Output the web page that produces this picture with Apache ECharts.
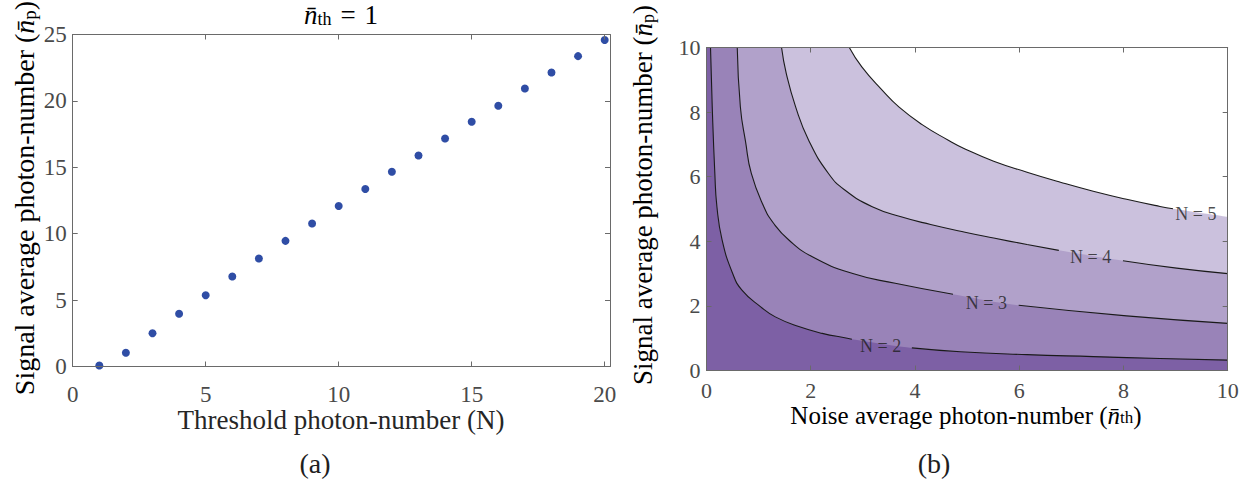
<!DOCTYPE html>
<html>
<head>
<meta charset="utf-8">
<script src="https://cdn.jsdelivr.net/npm/echarts@6/dist/echarts.min.js"></script>
<style>
  html, body { margin: 0; padding: 0; background: #ffffff; }
  #chart { width: 1251px; height: 484px; }
</style>
</head>
<body>
<div id="chart"></div>
<script>
// (a) signal photon number needed for each threshold N at n_th = 1
const thresholdN = [1, 2, 3, 4, 5, 6, 7, 8, 9, 10, 11, 12, 13, 14, 15, 16, 17, 18, 19, 20];
const signalNp = [0.08, 1.03, 2.51, 3.97, 5.37, 6.78, 8.13, 9.46, 10.77, 12.08,
                  13.36, 14.66, 15.89, 17.17, 18.43, 19.63, 20.93, 22.14, 23.37, 24.58];
const ticksA_x = [0, 5, 10, 15, 20];
const ticksA_y = [0, 5, 10, 15, 20, 25];

// (b) contour lines [n_th, n_p] for each threshold level
const contourN2 = [[0.077, 10], [0.11, 8.16], [0.16, 6.10], [0.20, 5.07], [0.30, 4.04], [0.50, 3.01],
                   [0.68, 2.49], [1.04, 1.97], [1.32, 1.66], [1.77, 1.36], [2.22, 1.15], [2.70, 1.00],
                   [2.79, 0.97], [3.94, 0.70], [4.87, 0.58], [6.15, 0.49], [7.42, 0.43], [8.70, 0.37], [10, 0.32]];
const contourN3 = [[0.59, 10], [0.65, 8.16], [0.75, 7.08], [0.86, 6.10], [1.10, 5.07], [1.29, 4.55],
                   [1.58, 4.04], [2.03, 3.52], [2.79, 3.01], [3.62, 2.70], [4.73, 2.36], [5.99, 2.02],
                   [8.06, 1.69], [10, 1.46]];
const contourN4 = [[1.44, 10], [1.53, 9.20], [1.71, 8.16], [1.96, 7.13], [2.34, 6.10], [2.66, 5.58],
                   [3.18, 5.07], [3.75, 4.75], [4.30, 4.52], [4.96, 4.28], [5.51, 4.10], [6.15, 3.90],
                   [6.76, 3.72], [7.99, 3.40], [9.02, 3.17], [10, 3.00]];
const contourN5 = [[2.74, 10], [2.98, 9.40], [3.37, 8.68], [3.69, 8.16], [4.13, 7.62], [4.64, 7.13],
                   [4.96, 6.86], [5.51, 6.48], [6.15, 6.14], [6.79, 5.83], [7.42, 5.55], [8.06, 5.30],
                   [8.70, 5.08], [8.95, 5.01], [10, 4.76]];
const contourLevels = ['N = 2', 'N = 3', 'N = 4', 'N = 5'];
const contourLabelPos = [[3.34, 0.76], [5.37, 2.10], [7.37, 3.50], [9.39, 4.86]];
const contourLabelGaps = [[2.79, 3.94], [4.73, 5.99], [6.76, 7.99], [8.95, 10.01]];
const ticksB = [0, 2, 4, 6, 8, 10];

// fill colours, from the lowest band up to the region above N = 5
const bandColors = ['#7d60a5', '#9983b8', '#b1a1ca', '#cbc1dd', '#ffffff'];

const SERIF = "'Liberation Serif', 'DejaVu Serif', serif";
const AXIS_GREY = '#6a6a6a';
const TICK_TEXT = '#4a4a4a';

const contours = [contourN2, contourN3, contourN4, contourN5];

// split a contour line where its inline label sits
function withGap(points, gap) {
  const out = [];
  let broke = false;
  points.forEach(p => {
    if (p[0] > gap[0] && p[0] < gap[1]) return;
    if (p[0] >= gap[1] && !broke) { out.push([(gap[0] + gap[1]) / 2, '-']); broke = true; }
    out.push(p);
  });
  return out;
}

function boxAxis(gridIndex, pos, min, max, ticks, labelOpt) {
  return {
    type: 'value', gridIndex: gridIndex, position: pos, min: min, max: max, z: 10,
    axisLine: { show: true, onZero: false, lineStyle: { color: AXIS_GREY, width: 1 } },
    axisTick: { show: true, inside: true, length: 5, customValues: ticks,
                lineStyle: { color: AXIS_GREY, width: 1 } },
    axisLabel: labelOpt ? Object.assign({ customValues: ticks, fontFamily: SERIF, color: TICK_TEXT }, labelOpt)
                        : { show: false },
    splitLine: { show: false }
  };
}

const series = [];

series.push({
  type: 'scatter', xAxisIndex: 0, yAxisIndex: 0,
  data: thresholdN.map((n, i) => [n, signalNp[i]]),
  symbol: 'circle', symbolSize: 8,
  itemStyle: { color: '#2f4da5', opacity: 1 },
  clip: false
});

contours.forEach((c, i) => {
  // band lying above this contour line
  series.push({
    type: 'line', xAxisIndex: 2, yAxisIndex: 2, data: c,
    smooth: 0.5, symbol: 'none',
    lineStyle: { width: 0, opacity: 0 },
    areaStyle: { color: bandColors[i + 1], origin: 'end', opacity: 1 },
    z: 2 + i, silent: true
  });
});
contours.forEach((c, i) => {
  series.push({
    type: 'line', xAxisIndex: 2, yAxisIndex: 2, data: withGap(c, contourLabelGaps[i]),
    smooth: 0.5, symbol: 'none', connectNulls: false,
    lineStyle: { color: '#1a1a1a', width: 1.1 },
    z: 8, silent: true
  });
});
series.push({
  type: 'scatter', xAxisIndex: 2, yAxisIndex: 2,
  data: contourLabelPos.map((p, i) => ({ value: p, name: contourLevels[i] })),
  symbolSize: 0, z: 9, silent: true,
  label: { show: true, position: 'inside', formatter: '{b}', fontFamily: SERIF,
           fontSize: 18, lineHeight: 16, color: '#1e1e1e' }
});

const rich = (size, color, lh) => ({
  m: { fontFamily: SERIF, fontSize: size, color: color, lineHeight: lh },
  e: { fontFamily: SERIF, fontSize: size, color: color, lineHeight: lh, padding: [0, 9, 0, 9] },
  i: { fontFamily: SERIF, fontSize: size, fontStyle: 'italic', color: color, lineHeight: lh },
  s: { fontFamily: SERIF, fontSize: Math.round(size * 0.68), color: color, verticalAlign: 'bottom', lineHeight: lh }
});

const option = {
  animation: false,
  backgroundColor: '#ffffff',
  grid: [
    { left: 72.7, top: 34.5, width: 537.3, height: 332, containLabel: false, show: false },
    { left: 706.5, top: 47.5, width: 521.2, height: 323, containLabel: false, show: true,
      backgroundColor: bandColors[0], borderWidth: 0 }
  ],
  xAxis: [
    boxAxis(0, 'bottom', 0, 20.2, ticksA_x, { fontSize: 23, lineHeight: 14, margin: 21 }),
    boxAxis(0, 'top', 0, 20.2, ticksA_x, null),
    boxAxis(1, 'bottom', 0, 10, ticksB, { fontSize: 22, lineHeight: 14, margin: 13 }),
    boxAxis(1, 'top', 0, 10, ticksB, null)
  ],
  yAxis: [
    boxAxis(0, 'left', 0, 25, ticksA_y, { fontSize: 23, margin: 6 }),
    boxAxis(0, 'right', 0, 25, ticksA_y, null),
    boxAxis(1, 'left', 0, 10, ticksB, { fontSize: 22, margin: 6 }),
    boxAxis(1, 'right', 0, 10, ticksB, null)
  ],
  series: series,
  graphic: [
    { type: 'text', x: 341, y: 15, style: {
        text: '{i|n\u0304}{s|th}{e|=}{m|1}', rich: rich(27, '#1e1e1e', 26),
        align: 'center', verticalAlign: 'middle' } },
    { type: 'text', x: 24, y: 198, rotation: Math.PI / 2, style: {
        text: '{m|Signal average photon-number (}{i|n\u0304}{s|p}{m|)}', rich: rich(28, '#262626', 30),
        align: 'center', verticalAlign: 'middle' } },
    { type: 'text', x: 341, y: 420, style: {
        text: 'Threshold photon-number (N)', fontFamily: SERIF, fontSize: 27, lineHeight: 22,
        fill: '#262626', align: 'center', verticalAlign: 'middle' } },
    { type: 'text', x: 315, y: 463, style: {
        text: '(a)', fontFamily: SERIF, fontSize: 28, fill: '#1e1e1e',
        align: 'center', verticalAlign: 'middle' } },
    { type: 'text', x: 643, y: 195, rotation: Math.PI / 2, style: {
        text: '{m|Signal average photon-number (}{i|n\u0304}{s|p}{m|)}', rich: rich(27, '#333333', 28),
        align: 'center', verticalAlign: 'middle' } },
    { type: 'text', x: 966, y: 415, style: {
        text: '{m|Noise average photon-number (}{i|n\u0304}{s|th}{m|)}', rich: rich(25, '#5a5a5a', 22),
        align: 'center', verticalAlign: 'middle' } },
    { type: 'text', x: 934, y: 463, style: {
        text: '(b)', fontFamily: SERIF, fontSize: 28, fill: '#1e1e1e',
        align: 'center', verticalAlign: 'middle' } }
  ]
};

const chart = echarts.init(document.getElementById('chart'), null, { renderer: 'svg', width: 1251, height: 484 });
chart.setOption(option);
</script>
</body>
</html>
